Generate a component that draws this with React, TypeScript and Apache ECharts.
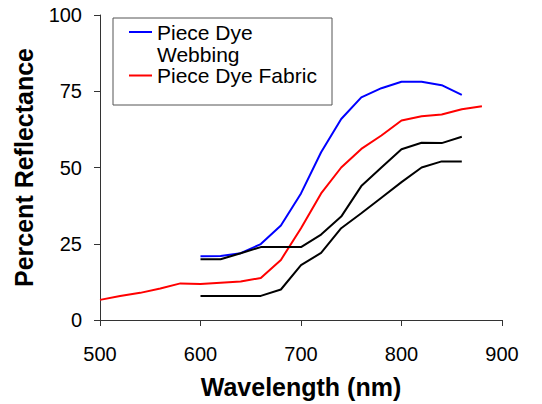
import React, { useEffect, useRef } from "react";
import * as echarts from "echarts";

const webbingX = [600, 620, 640, 660, 680, 700, 720, 740, 760, 780, 800, 820, 840, 860];
const webbingY = [20.9, 21, 21.9, 24.9, 31, 41.5, 55, 65.9, 73, 76, 78.1, 78.1, 77, 73.8];

const fabricX = [500, 520, 540, 560, 580, 600, 620, 640, 660, 680, 700, 720, 740, 760, 780, 800, 820, 840, 860, 880];
const fabricY = [6.6, 7.9, 8.9, 10.3, 12, 11.8, 12.2, 12.6, 13.8, 19.7, 30.1, 41.5, 50, 56.1, 60.5, 65.4, 66.8, 67.4, 69.1, 70.1];

const blackUpperX = [600, 620, 640, 660, 680, 700, 720, 740, 760, 780, 800, 820, 840, 860];
const blackUpperY = [19.9, 19.9, 21.9, 23.9, 23.9, 23.9, 28, 33.9, 43.9, 50, 56, 58.1, 58, 60.1];

const blackLowerX = [600, 620, 640, 660, 680, 700, 720, 740, 760, 780, 800, 820, 840, 860];
const blackLowerY = [7.9, 7.9, 7.9, 7.9, 10, 18, 22, 30.1, 35, 40.1, 45.2, 50, 52, 52];

const xTicks = [500, 600, 700, 800, 900];
const yTicks = [0, 25, 50, 75, 100];

const FONT = "'Liberation Sans', Arial, sans-serif";

const pairs = (xs: number[], ys: number[]) => xs.map((x, i) => [x, ys[i]]);

export default function App() {
  const ref = useRef<HTMLDivElement>(null);
  useEffect(() => {
    if (!ref.current) return;
    const chart = echarts.init(ref.current, undefined, { renderer: "svg" });
    const lineSeries = (name: string, data: number[][], color: string) => ({
      name,
      type: "line",
      data,
      showSymbol: false,
      symbol: "none",
      lineStyle: { color, width: 2 },
      itemStyle: { color },
      z: 3,
    });
    const legendText = (text: string, y: number) => ({
      type: "text",
      x: 157,
      y,
      style: { text, font: `21px ${FONT}`, fill: "#000", verticalAlign: "middle", lineHeight: 17 },
      z: 11,
    });
    chart.setOption({
      animation: false,
      backgroundColor: "#ffffff",
      textStyle: { fontFamily: FONT },
      grid: { left: 100, right: 40, top: 15, bottom: 81 },
      xAxis: {
        type: "value",
        min: xTicks[0],
        max: xTicks[xTicks.length - 1],
        interval: 100,
        name: "Wavelength (nm)",
        nameLocation: "middle",
        nameGap: 54,
        nameTextStyle: { fontFamily: FONT, fontSize: 25, fontWeight: "bold", color: "#000" },
        axisLine: { show: true, lineStyle: { color: "#333", width: 1 } },
        axisTick: { show: true, inside: false, length: 6, lineStyle: { color: "#333" } },
        axisLabel: { fontFamily: FONT, fontSize: 20, color: "#000", margin: 24 },
        splitLine: { show: false },
      },
      yAxis: {
        type: "value",
        min: yTicks[0],
        max: yTicks[yTicks.length - 1],
        interval: 25,
        name: "Percent Reflectance",
        nameLocation: "middle",
        nameGap: 64,
        nameTextStyle: { fontFamily: FONT, fontSize: 25, fontWeight: "bold", color: "#000" },
        axisLine: { show: true, lineStyle: { color: "#333", width: 1 } },
        axisTick: { show: true, inside: false, length: 6, lineStyle: { color: "#333" } },
        axisLabel: { fontFamily: FONT, fontSize: 20, color: "#000", margin: 18 },
        splitLine: { show: false },
      },
      series: [
        lineSeries("Piece Dye Webbing", pairs(webbingX, webbingY), "#0000ff"),
        lineSeries("Piece Dye Fabric", pairs(fabricX, fabricY), "#ff0000"),
        lineSeries("Black 1", pairs(blackUpperX, blackUpperY), "#000000"),
        lineSeries("Black 2", pairs(blackLowerX, blackLowerY), "#000000"),
      ],
      graphic: [
        {
          type: "rect",
          shape: { x: 113, y: 18, width: 219, height: 87 },
          style: { fill: "#ffffff", stroke: "#555555", lineWidth: 1 },
          z: 10,
        },
        {
          type: "line",
          shape: { x1: 129, y1: 32, x2: 152, y2: 32 },
          style: { stroke: "#0000ff", lineWidth: 2 },
          z: 11,
        },
        {
          type: "line",
          shape: { x1: 129, y1: 75.5, x2: 152, y2: 75.5 },
          style: { stroke: "#ff0000", lineWidth: 2 },
          z: 11,
        },
        legendText("Piece Dye", 32),
        legendText("Webbing", 54),
        legendText("Piece Dye Fabric", 75.5),
      ],
    });
    return () => chart.dispose();
  }, []);
  return <div ref={ref} style={{ width: 542, height: 404, position: "fixed", left: 0, top: 0 }} />;
}
